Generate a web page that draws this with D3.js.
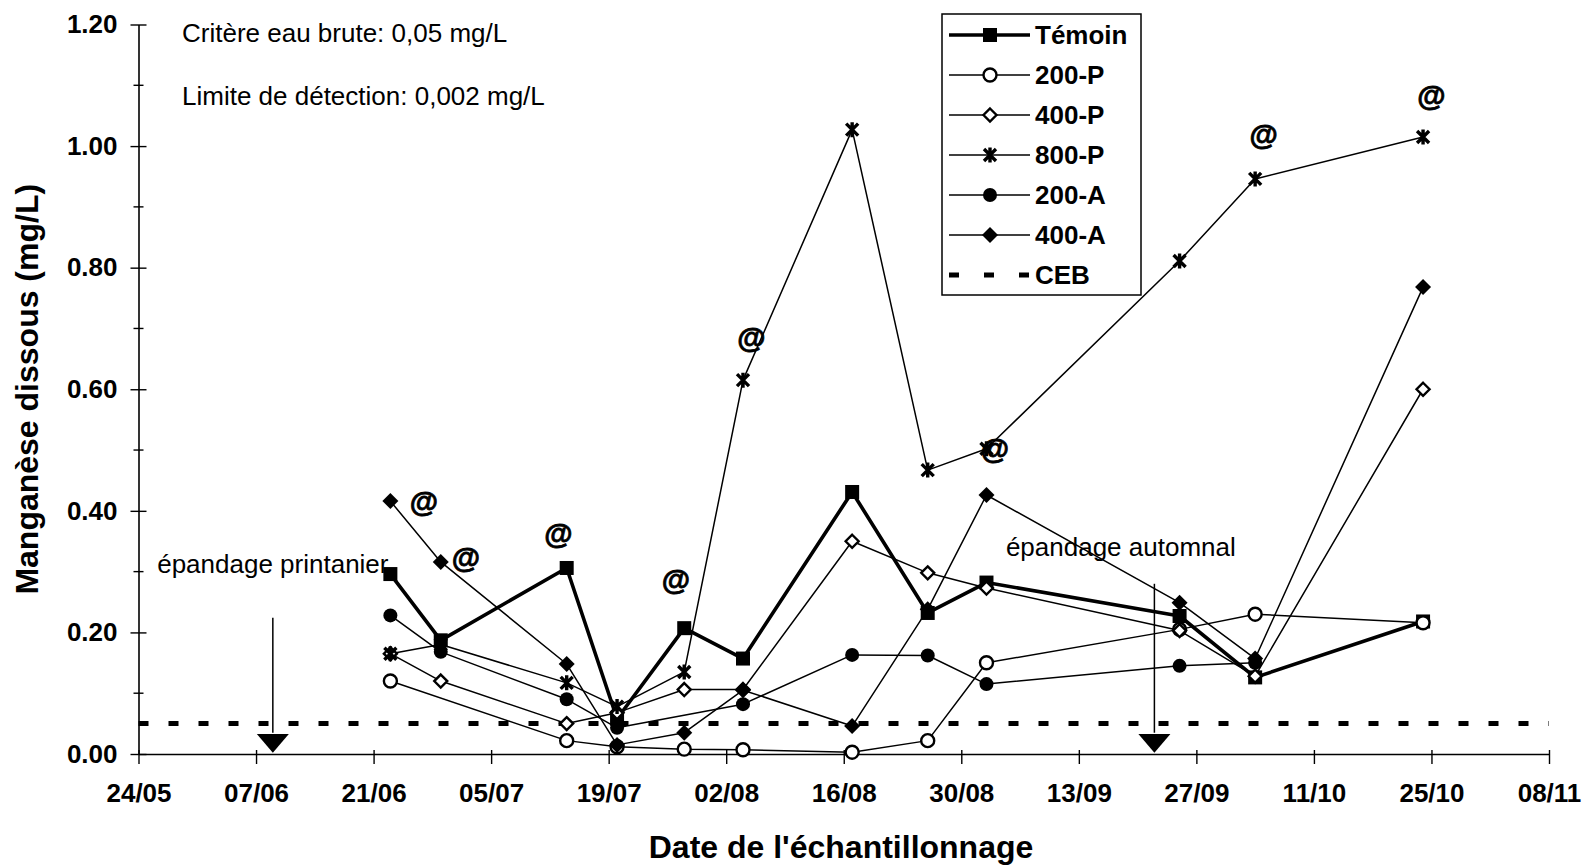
<!DOCTYPE html>
<html>
<head>
<meta charset="utf-8">
<script src="https://cdn.jsdelivr.net/npm/d3@7"></script>
<style>
  html, body { margin: 0; padding: 0; background: #fff; }
  svg { display: block; }
  text { font-family: "Liberation Sans", Arial, sans-serif; fill: #000; }
</style>
</head>
<body>
<svg id="chart" width="1583" height="867"></svg>
<script>
// Sampling dates (day/month)
const sampleDates = ["23/06","29/06","14/07","20/07","28/07","04/08","17/08","26/08","02/09","25/09","04/10","24/10"];

// Dissolved manganese (mg/L) per plot; null = no sample
const temoin = [0.296, 0.187, 0.306, 0.058, 0.207, 0.157, 0.431, 0.232, 0.282, 0.227, 0.126, 0.218];
const p200   = [0.120, null,  0.022, 0.012, 0.008, 0.007, 0.003, 0.022, 0.150, 0.205, 0.230, 0.216];
const p400   = [0.165, 0.120, 0.050, 0.068, 0.106, 0.106, 0.350, 0.298, 0.273, 0.203, 0.128, 0.600];
const p800   = [0.165, 0.180, 0.117, 0.078, 0.135, 0.615, 1.027, 0.467, 0.502, 0.811, 0.946, 1.015];
const a200   = [0.228, 0.168, 0.090, 0.043, null,  0.082, 0.163, 0.162, 0.115, 0.145, 0.150, null];
const a400   = [0.416, 0.316, 0.148, 0.015, 0.035, 0.105, 0.046, 0.238, 0.426, 0.249, 0.157, 0.768];

const seriesNames = ["Témoin", "200-P", "400-P", "800-P", "200-A", "400-A"];
const seriesValues = [temoin, p200, p400, p800, a200, a400];
const markerTypes = ["square", "circleOpen", "diamondOpen", "star", "circle", "diamond"];

// Raw-water criterion (CEB)
const cebValue = 0.05;
const cebName = "CEB";

// Axis ticks
const yMajorTicks = [0, 0.2, 0.4, 0.6, 0.8, 1.0, 1.2];
const yMinorTicks = [0.1, 0.3, 0.5, 0.7, 0.9, 1.1];
const xTickLabels = ["24/05","07/06","21/06","05/07","19/07","02/08","16/08","30/08","13/09","27/09","11/10","25/10","08/11"];

// "@" flags
const atDates  = ["27/06","02/07","13/07","27/07","05/08","03/09","05/10","25/10"];
const atValues = [0.414, 0.322, 0.362, 0.287, 0.684, 0.501, 1.019, 1.082];

// Manure spreading events
const spreadDates = ["09/06", "22/09"];
const spreadTops = [0.224, 0.280];
const spreadLabels = ["épandage printanier", "épandage automnal"];
const spreadLabelDates = ["09/06", "18/09"];
const spreadLabelValues = [0.298, 0.326];

const notes = ["Critère eau brute: 0,05 mg/L", "Limite de détection: 0,002 mg/L"];

const parse = s => d3.timeParse("%d/%m/%Y")(s + "/2001");

const svg = d3.select("#chart");
const x = d3.scaleTime()
  .domain([parse(xTickLabels[0]), parse(xTickLabels[xTickLabels.length - 1])])
  .range([138.5, 1549]);
const y = d3.scaleLinear().domain([0, 1.2]).range([754, 24.5]);

function txt(g, px, py, str, size, weight, anchor, rot) {
  return g.append("text")
    .attr("transform", `translate(${px},${py})` + (rot ? ` rotate(${rot})` : ""))
    .attr("text-anchor", anchor || "start")
    .style("font-size", size + "px")
    .style("font-weight", weight || "normal")
    .text(str);
}

function marker(g, type, cx, cy) {
  const m = g.append("g").attr("transform", `translate(${cx},${cy})`);
  if (type === "square") {
    m.append("rect").attr("x", -7).attr("y", -7).attr("width", 14).attr("height", 14).attr("fill", "#000");
  } else if (type === "circleOpen") {
    m.append("circle").attr("r", 6.5).attr("fill", "#fff").attr("stroke", "#000").attr("stroke-width", 2.4);
  } else if (type === "diamondOpen") {
    m.append("path").attr("d", "M0,-6.5L6.5,0L0,6.5L-6.5,0Z").attr("fill", "#fff").attr("stroke", "#000").attr("stroke-width", 2.4);
  } else if (type === "star") {
    m.append("path").attr("d", "M-6,-6L6,6M-6,6L6,-6M0,-7.5L0,7.5").attr("stroke", "#000").attr("stroke-width", 3.4).attr("fill", "none");
  } else if (type === "circle") {
    m.append("circle").attr("r", 7).attr("fill", "#000");
  } else if (type === "diamond") {
    m.append("path").attr("d", "M0,-8L8,0L0,8L-8,0Z").attr("fill", "#000");
  }
}

// Y axis
const yAxis = svg.append("g").attr("transform", `translate(${x.range()[0]},0)`)
  .call(d3.axisLeft(y).tickValues(yMajorTicks).tickFormat(d3.format(".2f")).tickSize(8).tickSizeOuter(0).tickPadding(13));
yAxis.select(".domain").attr("stroke", "#000").attr("stroke-width", 1.6);
yAxis.selectAll(".tick line").attr("x1", 8).attr("stroke", "#000").attr("stroke-width", 1.4);
yAxis.selectAll(".tick text").style("font-size", "26px").style("font-weight", "bold")
  .style("font-family", '"Liberation Sans", Arial, sans-serif').attr("fill", "#000");
yAxis.selectAll(".minor").data(yMinorTicks).enter().append("line").attr("class", "minor")
  .attr("x1", -5).attr("x2", 5).attr("y1", d => y(d)).attr("y2", d => y(d))
  .attr("stroke", "#000").attr("stroke-width", 1.4);

// X axis
const xAxis = svg.append("g").attr("transform", `translate(0,${y(0)})`)
  .call(d3.axisBottom(x).tickValues(xTickLabels.map(parse)).tickFormat(d3.timeFormat("%d/%m")).tickSize(10).tickSizeOuter(0).tickPadding(20));
xAxis.select(".domain").attr("stroke", "#000").attr("stroke-width", 1.6);
xAxis.selectAll(".tick line").attr("y1", -4).attr("stroke", "#000").attr("stroke-width", 1.4);
xAxis.selectAll(".tick text").style("font-size", "26px").style("font-weight", "bold")
  .style("font-family", '"Liberation Sans", Arial, sans-serif').attr("fill", "#000");

// Axis titles
txt(svg, 38, (y(0) + y(1.2)) / 2, "Manganèse dissous (mg/L)", 32, "bold", "middle", -90);
txt(svg, 841, 858, "Date de l'échantillonnage", 32, "bold", "middle");

// Notes
txt(svg, 182, 42, notes[0], 26);
txt(svg, 182, 105, notes[1], 26);

// CEB criterion line
svg.append("line")
  .attr("x1", x.range()[0]).attr("x2", x.range()[1])
  .attr("y1", y(cebValue)).attr("y2", y(cebValue))
  .attr("stroke", "#000").attr("stroke-width", 5).attr("stroke-dasharray", "10,20");

// Spreading arrows
spreadDates.forEach((d, i) => {
  const ax = x(parse(d));
  svg.append("line").attr("x1", ax).attr("x2", ax).attr("y1", y(spreadTops[i])).attr("y2", y(0.035))
    .attr("stroke", "#000").attr("stroke-width", 1.5);
  svg.append("path")
    .attr("d", `M${ax - 16},${y(0.033)}L${ax + 16},${y(0.033)}L${ax},${y(0.002)}Z`)
    .attr("fill", "#000");
  txt(svg, x(parse(spreadLabelDates[i])), y(spreadLabelValues[i]), spreadLabels[i], 26, "normal", "middle");
});

// Series lines and markers
const line = d3.line().x(d => x(d.date)).y(d => y(d.v));
seriesNames.forEach((name, si) => {
  const pts = sampleDates.map((d, i) => ({ date: parse(d), v: seriesValues[si][i] })).filter(p => p.v !== null);
  svg.append("path").datum(pts).attr("d", line).attr("fill", "none").attr("stroke", "#000")
    .attr("stroke-width", si === 0 ? 3.6 : 1.5).attr("stroke-linejoin", "round");
});
seriesNames.forEach((name, si) => {
  const g = svg.append("g");
  sampleDates.forEach((d, i) => {
    const v = seriesValues[si][i];
    if (v !== null) marker(g, markerTypes[si], x(parse(d)), y(v));
  });
});

// "@" flags
atDates.forEach((d, i) => {
  txt(svg, x(parse(d)), y(atValues[i]) + 10, "@", 29, "bold", "middle")
    .attr("stroke", "#000").attr("stroke-width", 0.8);
});

// Legend
const lg = svg.append("g");
lg.append("rect").attr("x", 942).attr("y", 14).attr("width", 199).attr("height", 281)
  .attr("fill", "#fff").attr("stroke", "#000").attr("stroke-width", 1.5);
const rowY = i => 35 + i * 40;
seriesNames.forEach((name, si) => {
  lg.append("line").attr("x1", 949).attr("x2", 1030).attr("y1", rowY(si)).attr("y2", rowY(si))
    .attr("stroke", "#000").attr("stroke-width", si === 0 ? 3.6 : 1.5);
  marker(lg, markerTypes[si], 990, rowY(si));
  txt(lg, 1035, rowY(si) + 9, name, 26, "bold");
});
lg.append("line").attr("x1", 949).attr("x2", 1030).attr("y1", rowY(6)).attr("y2", rowY(6))
  .attr("stroke", "#000").attr("stroke-width", 5).attr("stroke-dasharray", "10,25");
txt(lg, 1035, rowY(6) + 9, cebName, 26, "bold");
</script>
</body>
</html>
